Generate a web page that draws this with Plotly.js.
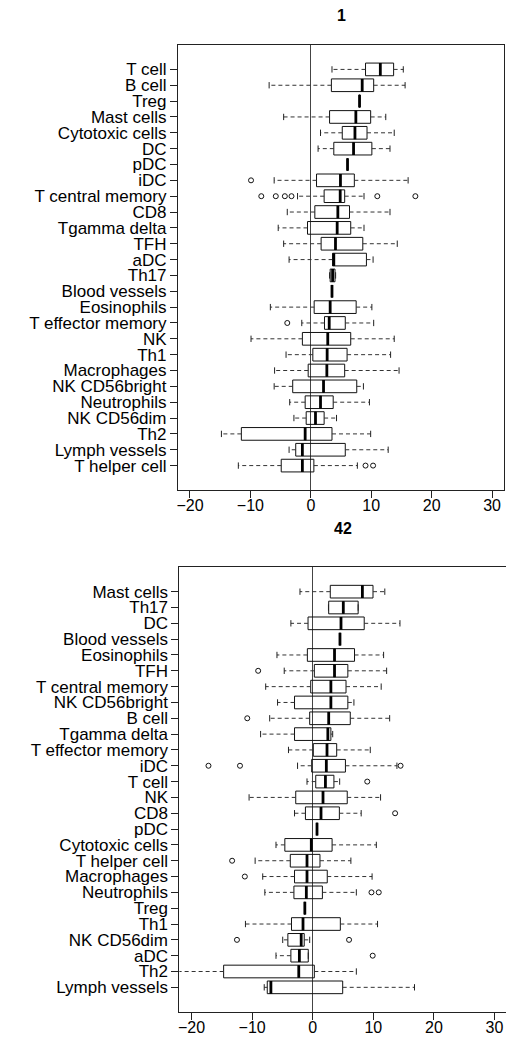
<!DOCTYPE html>
<html>
<head>
<meta charset="utf-8">
<script src="https://cdn.plot.ly/plotly-3.0.1.min.js"></script>
<style>html,body{margin:0;padding:0;background:#fff;}#chart{width:506px;height:1042px;}</style>
</head>
<body>
<div id="chart"></div>
<script>
// ---------- Panel "1" ----------
const p1_title = "1";
const p1_cats = ["T cell","B cell","Treg","Mast cells","Cytotoxic cells","DC","pDC","iDC","T central memory","CD8","Tgamma delta","TFH","aDC","Th17","Blood vessels","Eosinophils","T effector memory","NK","Th1","Macrophages","NK CD56bright","Neutrophils","NK CD56dim","Th2","Lymph vessels","T helper cell"];
const p1_lo  = [3.5, -6.9, 8.06, -4.5, 1.6, 1.2, 6.07, -6.07, -2.2, -3.9, -5.4, -4.5, -3.6, 3.1, 3.5, -6.7, -1.5, -9.9, -4.1, -6.0, -6.07, -3.5, -2.8, -14.8, -3.6, -12.0];
const p1_q1  = [9.05, 3.4, 8.06, 3.1, 5.2, 3.8, 6.07, 0.94, 2.2, 0.66, -0.55, 1.7, 3.6, 3.2, 3.5, 0.55, 2.26, -1.4, 0.33, -0.44, -3.0, -0.94, -0.77, -11.5, -2.5, -4.9];
const p1_med = [11.5, 8.5, 8.06, 7.45, 7.3, 7.07, 6.07, 4.9, 4.86, 4.47, 4.36, 4.08, 3.8, 3.6, 3.5, 3.2, 3.04, 2.8, 2.7, 2.65, 2.1, 1.6, 0.77, -0.94, -1.4, -1.4];
const p1_q3  = [13.7, 10.4, 8.06, 9.9, 9.3, 10.1, 6.07, 7.2, 5.6, 6.4, 6.6, 8.6, 9.2, 4.0, 3.5, 7.5, 5.7, 6.6, 6.0, 5.6, 7.6, 3.7, 2.2, 3.5, 5.7, 0.5];
const p1_hi  = [15.3, 15.6, 8.06, 12.4, 13.8, 13.1, 6.07, 16.1, 8.8, 13.1, 8.8, 14.3, 10.3, 4.1, 3.5, 10.1, 10.4, 13.8, 13.2, 14.6, 8.7, 9.7, 4.25, 9.9, 12.8, 7.7];
const p1_out = [[],[],[],[],[],[],[],[-9.9],[-8.2,-5.8,-4.3,-3.2,11.0,17.3],[],[],[],[],[],[],[],[-3.9],[],[],[],[],[],[],[],[],[9.05,10.3]];

// ---------- Panel "42" ----------
const p2_title = "42";
const p2_cats = ["Mast cells","Th17","DC","Blood vessels","Eosinophils","TFH","T central memory","NK CD56bright","B cell","Tgamma delta","T effector memory","iDC","T cell","NK","CD8","pDC","Cytotoxic cells","T helper cell","Macrophages","Neutrophils","Treg","Th1","NK CD56dim","aDC","Th2","Lymph vessels"];
const p2_lo  = [-2.1, 2.6, -3.6, 4.5, -5.9, -4.7, -7.76, -5.8, -7.1, -8.6, -4.0, -2.5, -0.94, -10.5, -3.0, 0.71, -6.06, -9.5, -8.25, -7.9, -1.3, -11.1, -4.95, -6.06, -24.0, -8.0];
const p2_q1  = [2.9, 2.64, -0.77, 4.5, -0.88, 0.27, -0.33, -3.0, -0.5, -3.0, 0.1, -0.17, 0.5, -2.8, -1.2, 0.71, -4.6, -3.7, -3.0, -3.1, -1.3, -3.5, -4.1, -3.6, -14.7, -7.5];
const p2_med = [8.2, 5.05, 4.67, 4.5, 3.6, 3.6, 3.0, 3.0, 2.64, 2.5, 2.36, 2.25, 2.1, 1.7, 1.37, 0.71, -0.23, -0.94, -0.94, -1.05, -1.3, -1.6, -1.9, -2.2, -2.3, -6.9];
const p2_q3  = [9.95, 7.5, 8.5, 4.5, 6.9, 5.8, 5.5, 5.8, 6.2, 3.0, 3.96, 5.4, 3.5, 5.7, 4.4, 0.71, 3.2, 1.2, 2.4, 1.6, -1.3, 4.56, -1.4, -0.73, 0.27, 4.95];
const p2_hi  = [11.9, 7.5, 14.4, 4.5, 11.7, 12.2, 11.3, 6.8, 12.7, 3.3, 9.5, 13.9, 4.45, 11.2, 8.0, 0.71, 10.5, 6.3, 9.8, 7.2, -1.3, 10.7, -0.5, -0.73, 7.2, 16.8];
const p2_out = [[],[],[],[],[],[-9.0],[],[],[-10.8],[],[],[-17.2,-12.0,14.5],[9.0],[],[13.6],[],[],[-13.3],[-11.2],[9.7,10.9],[],[],[-12.5,6.0],[9.9],[],[]];

const xTicks = [-20, -10, 0, 10, 20, 30];

function panelTraces(cats, lo, q1, med, q3, hi, out, xa, ya) {
  const pos = cats.map((c, i) => i);
  const traces = [];
  traces.push({
    type: 'box', orientation: 'h', xaxis: xa, yaxis: ya,
    y: pos, q1: q1, median: med, q3: q3, lowerfence: q1, upperfence: q3,
    width: 0.8, whiskerwidth: 0, boxpoints: false,
    line: {color: '#111', width: 1}, fillcolor: 'rgba(0,0,0,0)', hoverinfo: 'skip'
  });
  const wx = [], wy = [];
  pos.forEach(i => { wx.push(q1[i], lo[i], null, q3[i], hi[i], null); wy.push(i, i, null, i, i, null); });
  traces.push({type: 'scatter', mode: 'lines', xaxis: xa, yaxis: ya, x: wx, y: wy,
    line: {color: '#333', width: 1, dash: '4px,3px'}, hoverinfo: 'skip'});
  const sx = [], sy = [];
  pos.forEach(i => { sx.push(lo[i], lo[i], null, hi[i], hi[i], null); sy.push(i - 0.2, i + 0.2, null, i - 0.2, i + 0.2, null); });
  traces.push({type: 'scatter', mode: 'lines', xaxis: xa, yaxis: ya, x: sx, y: sy,
    line: {color: '#222', width: 1}, hoverinfo: 'skip'});
  const mx = [], my = [];
  pos.forEach(i => { mx.push(med[i], med[i], null); my.push(i - 0.4, i + 0.4, null); });
  traces.push({type: 'scatter', mode: 'lines', xaxis: xa, yaxis: ya, x: mx, y: my,
    line: {color: '#000', width: 2.8}, hoverinfo: 'skip'});
  const ox = [], oy = [];
  pos.forEach(i => out[i].forEach(v => { ox.push(v); oy.push(i); }));
  traces.push({type: 'scatter', mode: 'markers', xaxis: xa, yaxis: ya, x: ox, y: oy,
    marker: {symbol: 'circle-open', size: 5, color: '#111', line: {width: 1, color: '#111'}}, hoverinfo: 'skip'});
  return traces;
}

const data = [].concat(
  panelTraces(p1_cats, p1_lo, p1_q1, p1_med, p1_q3, p1_hi, p1_out, 'x', 'y'),
  panelTraces(p2_cats, p2_lo, p2_q1, p2_med, p2_q3, p2_hi, p2_out, 'x2', 'y2')
);

const W = 506, H = 1042;
const font = {family: '"Liberation Sans", Arial, Helvetica, sans-serif', color: '#000'};

function xAxis(domain, range, anchor) {
  return {domain: domain, range: range, anchor: anchor, tickmode: 'array', tickvals: xTicks,
    ticks: 'outside', ticklen: 7, tickwidth: 1, tickcolor: '#222', ticklabelstandoff: -6,
    showline: true, mirror: true, linecolor: '#222', linewidth: 1,
    showgrid: false, zeroline: true, zerolinecolor: '#444', zerolinewidth: 1,
    tickfont: {family: font.family, size: 16, color: '#000'}, fixedrange: true};
}
function yAxis(domain, cats, anchor) {
  return {domain: domain, range: [cats.length + 0.54, -1.54], anchor: anchor,
    tickmode: 'array', tickvals: cats.map((c, i) => i), ticktext: cats,
    ticks: 'outside', ticklen: 7, tickwidth: 1, tickcolor: '#222',
    showline: true, mirror: true, linecolor: '#222', linewidth: 1,
    showgrid: false, zeroline: false,
    tickfont: {family: font.family, size: 17, color: '#000'}, fixedrange: true};
}

const layout = {
  width: W, height: H,
  margin: {l: 0, r: 0, t: 0, b: 0, pad: 0},
  paper_bgcolor: '#fff', plot_bgcolor: '#fff',
  showlegend: false, font: font,
  xaxis: xAxis([177.9 / W, 504.2 / W], [-22, 32], 'y'),
  yaxis: yAxis([1 - 490 / H, 1 - 45 / H], p1_cats, 'x'),
  xaxis2: xAxis([179.4 / W, 1], [-22, 31.9], 'y2'),
  yaxis2: yAxis([1 - 1011.7 / H, 1 - 567.3 / H], p2_cats, 'x2'),
  annotations: [
    {text: '<b>' + p1_title + '</b>', xref: 'paper', yref: 'paper', x: (177.9 + 504.2) / 2 / W, y: 1 - 16 / H,
     xanchor: 'center', yanchor: 'middle', showarrow: false, font: {family: font.family, size: 16, color: '#000'}},
    {text: '<b>' + p2_title + '</b>', xref: 'paper', yref: 'paper', x: (179.4 + 506.6) / 2 / W, y: 1 - 528 / H,
     xanchor: 'center', yanchor: 'middle', showarrow: false, font: {family: font.family, size: 16, color: '#000'}}
  ]
};

Plotly.newPlot('chart', data, layout, {staticPlot: true, displayModeBar: false});
</script>
</body>
</html>
